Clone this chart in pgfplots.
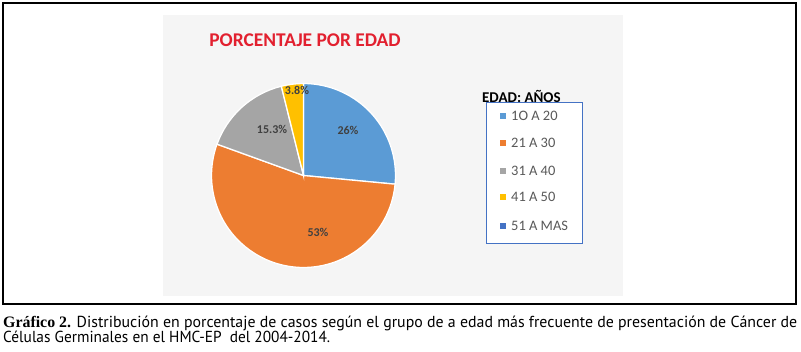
\documentclass[border=0pt]{standalone}
\usepackage{fontspec}
\setmainfont{Carlito}
\newfontfamily\capfont{PT Sans}
\newfontfamily\capserif{Liberation Serif}
\usepackage{graphicx}
\usepackage{pgfplots}
\pgfplotsset{compat=1.18}
\definecolor{cA}{HTML}{5B9BD5}
\definecolor{cB}{HTML}{ED7D31}
\definecolor{cC}{HTML}{A5A5A5}
\definecolor{cD}{HTML}{FFC000}
\definecolor{cE}{HTML}{4472C4}
\definecolor{titred}{HTML}{E2202F}
\definecolor{lbl}{HTML}{404040}
\definecolor{legtxt}{HTML}{595959}
\definecolor{panel}{HTML}{F5F5F5}
\begin{document}
\begin{tikzpicture}[x=1bp,y=1bp]
% data (percent)
\def\vA{26}\def\vB{53}\def\vC{15.3}\def\vD{3.8}\def\vE{0}
\pgfmathsetmacro\tot{\vA+\vB+\vC+\vD+\vE}
\pgfmathsetmacro\aA{90}
\pgfmathsetmacro\aB{\aA-360*(\vA/\tot)}
\pgfmathsetmacro\aC{\aB-360*(\vB/\tot)}
\pgfmathsetmacro\aD{\aC-360*(\vC/\tot)}
\pgfmathsetmacro\aE{\aD-360*(\vD/\tot)}
\fill[white] (0,0) rectangle (801,351);
\begin{axis}[x=1bp,y=1bp,xmin=0,xmax=801,ymin=0,ymax=351,hide axis,scale only axis,
  at={(0,0)},anchor=south west,clip=false]
\draw[black,line width=1.6bp] (axis cs:3,47) rectangle (axis cs:796,348);
\fill[panel] (axis cs:163,55) rectangle (axis cs:623,336);
% pie
\fill[cA,draw=white,line width=1.3bp] (axis cs:303.5,175.5) -- ++(\aA:92bp) arc[start angle=\aA,end angle=\aB,radius=92bp] -- cycle;
\fill[cB,draw=white,line width=1.3bp] (axis cs:303.5,175.5) -- ++(\aB:92bp) arc[start angle=\aB,end angle=\aC,radius=92bp] -- cycle;
\fill[cC,draw=white,line width=1.3bp] (axis cs:303.5,175.5) -- ++(\aC:92bp) arc[start angle=\aC,end angle=\aD,radius=92bp] -- cycle;
\fill[cD,draw=white,line width=1.3bp] (axis cs:303.5,175.5) -- ++(\aD:92bp) arc[start angle=\aD,end angle=\aE,radius=92bp] -- cycle;
% labels
\node[text=lbl,font=\fontsize{12}{14}\selectfont\bfseries] at (axis cs:348,221) {26\%};
\node[text=lbl,font=\fontsize{12}{14}\selectfont\bfseries] at (axis cs:318,119) {53\%};
\node[text=lbl,font=\fontsize{12}{14}\selectfont\bfseries] at (axis cs:272,222) {15.3\%};
\node[text=lbl,font=\fontsize{12}{14}\selectfont\bfseries] at (axis cs:297,261) {3.8\%};
% title
\node[text=titred,font=\fontsize{19.5}{22}\selectfont\bfseries] at (axis cs:305,311) {PORCENTAJE POR EDAD};
% legend
\node[anchor=west,text=black,font=\fontsize{15}{17}\selectfont\bfseries,inner sep=0pt] at (axis cs:482,255) {EDAD: AÑOS};
\fill[white] (axis cs:486,108) rectangle (axis cs:582,249);
\draw[cE,line width=1bp] (axis cs:486,108) rectangle (axis cs:582,249);
\fill[cA] (axis cs:500,232) rectangle (axis cs:506,238);
\fill[cB] (axis cs:500,205) rectangle (axis cs:506,211);
\fill[cC] (axis cs:500,177) rectangle (axis cs:506,183);
\fill[cD] (axis cs:500,151) rectangle (axis cs:506,157);
\fill[cE] (axis cs:500,122) rectangle (axis cs:506,128);
\node[anchor=west,inner sep=0pt,text=legtxt,font=\fontsize{14.5}{16}\selectfont] at (axis cs:511,235) {1O A 20};
\node[anchor=west,inner sep=0pt,text=legtxt,font=\fontsize{14.5}{16}\selectfont] at (axis cs:511,208) {21 A 30};
\node[anchor=west,inner sep=0pt,text=legtxt,font=\fontsize{14.5}{16}\selectfont] at (axis cs:511,180) {31 A 40};
\node[anchor=west,inner sep=0pt,text=legtxt,font=\fontsize{14.5}{16}\selectfont] at (axis cs:511,154) {41 A 50};
\node[anchor=west,inner sep=0pt,text=legtxt,font=\fontsize{14.5}{16}\selectfont] at (axis cs:511,125) {51 A MAS};
% caption
\node[anchor=base west,inner sep=0pt,font=\capfont\fontsize{16}{18}\selectfont] at (axis cs:3,24) {\resizebox{794bp}{\height}{{\capserif\bfseries Gráfico 2.} Distribución en porcentaje de casos según el grupo de a edad más frecuente de presentación de Cáncer de}};
\node[anchor=base west,inner sep=0pt,font=\capfont\fontsize{16}{18}\selectfont] at (axis cs:3,9) {\resizebox{327bp}{\height}{Células Germinales en el HMC-EP\ \ del 2004-2014.}};
\end{axis}
\end{tikzpicture}
\end{document}
